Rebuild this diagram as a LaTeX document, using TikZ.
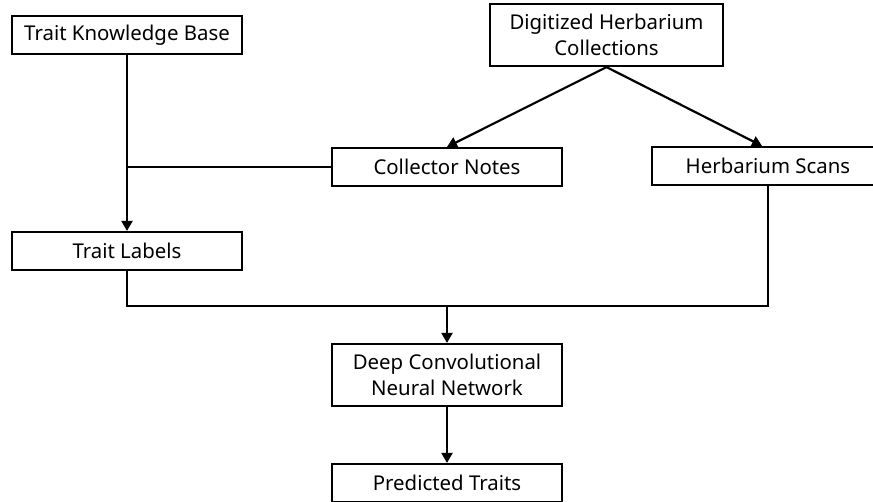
\documentclass[tikz,border=0pt]{standalone}
\usepackage{fontspec}
\setmainfont{Noto Sans}
\usetikzlibrary{arrows.meta}
\begin{document}
\begin{tikzpicture}[x=1pt,y=-1pt,
  box/.style={draw=black, line width=2.2pt, fill=white, minimum height=38pt,
    inner sep=0pt, align=center, font=\fontsize{20.4}{26}\selectfont},
  tall/.style={box, minimum height=62pt},
  link/.style={draw=black, line width=2.2pt},
  arr/.style={link, -{Triangle[length=10pt,width=11pt]}}]
\useasboundingbox (0,0) rectangle (873,501);
% source boxes
\node[box, minimum width=230pt] (tkb) at (127,35) {Trait Knowledge Base};
\node[tall, minimum width=233pt] (dhc) at (606.5,35) {Digitized Herbarium\\Collections};
\node[box, minimum width=230pt] (notes) at (447,167) {Collector Notes};
\node[box, minimum width=232pt] (scans) at (768,166) {Herbarium Scans};
\node[box, minimum width=230pt] (labels) at (127,251) {Trait Labels};
\node[tall, minimum width=230pt] (cnn) at (447,375) {Deep Convolutional\\Neural Network};
\node[box, minimum width=230pt] (pred) at (447,483) {Predicted Traits};
% junction points
\coordinate (jn) at (127,167);
\coordinate (jl) at (127,306);
\coordinate (jm) at (447,306);
\coordinate (jr) at (768,306);
% connectors
\draw[arr] (tkb.south) -- (labels.north);
\draw[link] (notes.west) -- (jn);
\draw[arr] (dhc.south) -- (notes.north);
\draw[arr] (dhc.south) -- ([xshift=-6pt]scans.north);
\draw[link] (labels.south) -- (jl) -- (jr) -- (scans.south);
\draw[arr] (jm) -- (cnn.north);
\draw[arr] (cnn.south) -- (pred.north);
\end{tikzpicture}
\end{document}
